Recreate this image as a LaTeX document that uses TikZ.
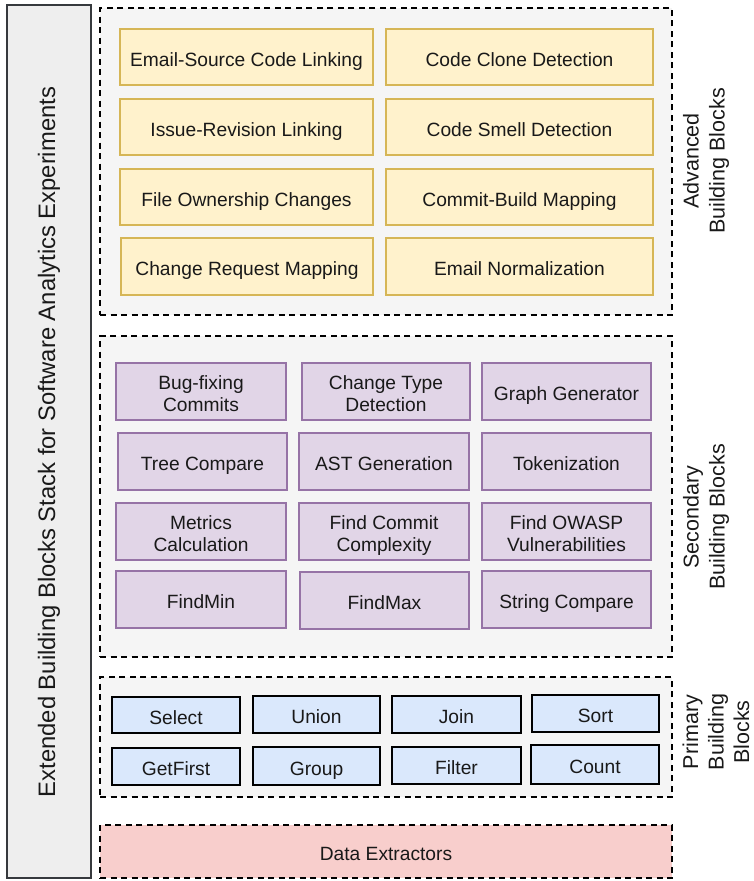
\documentclass[tikz,border=0pt]{standalone}
\usepackage{fontspec}
\setmainfont{Liberation Sans}
\begin{document}
\begin{tikzpicture}[x=1pt,y=-1pt,
  basebox/.style={draw, rectangle, inner sep=0pt, align=center, text=black!90,
    font=\fontsize{19.2}{22}\selectfont, text height=20pt, text depth=1.5pt},
  twoline/.style={text height=42pt},
  yellowbox/.style={basebox, fill=yfill, draw=ydraw, line width=2pt},
  purplebox/.style={basebox, fill=pfill, draw=pdraw, line width=2pt},
  bluebox/.style={basebox, fill=bfill, draw=black, line width=2.4pt},
  container/.style={draw=black, fill=cfill, line width=2pt, dash pattern=on 6pt off 4.5pt, rectangle, inner sep=0pt},
  sidelabel/.style={rotate=90, align=center, font=\fontsize{21.5}{26}\selectfont, text=black!90}
]
\definecolor{yfill}{HTML}{FFF2CC}
\definecolor{ydraw}{HTML}{D6B656}
\definecolor{pfill}{HTML}{E1D5E7}
\definecolor{pdraw}{HTML}{9673A6}
\definecolor{bfill}{HTML}{DAE8FC}
\definecolor{rfill}{HTML}{F8CECC}
\definecolor{cfill}{HTML}{F5F5F5}
\definecolor{gfill}{HTML}{EEEEEE}
\definecolor{gdraw}{HTML}{36393D}
\newcommand\rbox[7]{\node[#6, minimum width={#4pt-#2pt}, minimum height={#5pt-#3pt}] (#1) at ({(#2+#4)/2},{(#3+#5)/2}) {#7};}
\useasboundingbox (0,0) rectangle (754,881);

% left bar
\rbox{stack}{7}{5}{91}{878}{draw=gdraw, fill=gfill, line width=2.4pt, inner sep=0pt}{}
\node[rotate=90, font=\fontsize{23.8}{28}\selectfont, text=black!90] (stacklabel) at (49,442) {Extended Building Blocks Stack for Software Analytics Experiments};

% containers
\rbox{adv}{100}{8}{672}{315}{container}{}
\rbox{sec}{100}{336}{672}{657}{container}{}
\rbox{prim}{100}{677}{672}{797}{container}{}
\rbox{data}{100}{825}{672}{878}{container, fill=rfill, font=\fontsize{19.2}{22}\selectfont, text=black!90, text height=20pt, text depth=1.5pt}{Data Extractors}

\node[sidelabel] (advlabel) at (706,161) {Advanced\\Building Blocks};
\node[sidelabel] (seclabel) at (706,517) {Secondary\\Building Blocks};
\node[sidelabel, font=\fontsize{21.5}{25.5}\selectfont] (primlabel) at (716,732) {Primary\\Building\\Blocks};

% advanced
\rbox{a1}{120}{29}{373}{85}{yellowbox}{Email-Source Code Linking}
\rbox{a2}{120}{99}{373}{155}{yellowbox}{Issue-Revision Linking}
\rbox{a3}{120}{169}{373}{225}{yellowbox}{File Ownership Changes}
\rbox{a4}{121}{238}{373}{295}{yellowbox}{Change Request Mapping}
\rbox{a5}{386}{29}{653}{85}{yellowbox}{Code Clone Detection}
\rbox{a6}{386}{99}{653}{155}{yellowbox}{Code Smell Detection}
\rbox{a7}{386}{169}{653}{225}{yellowbox}{Commit-Build Mapping}
\rbox{a8}{386}{238}{653}{295}{yellowbox}{Email Normalization}

% secondary
\rbox{s1}{116}{363}{286}{420}{purplebox, twoline}{Bug-fixing\\Commits}
\rbox{s2}{302}{363}{470}{420}{purplebox, twoline}{Change Type\\Detection}
\rbox{s3}{482}{363}{651}{420}{purplebox}{Graph Generator}
\rbox{s4}{118}{433}{287}{490}{purplebox}{Tree Compare}
\rbox{s5}{299}{433}{469}{490}{purplebox}{AST Generation}
\rbox{s6}{482}{433}{651}{490}{purplebox}{Tokenization}
\rbox{s7}{116}{503}{286}{560}{purplebox, twoline}{Metrics\\Calculation}
\rbox{s8}{299}{503}{469}{560}{purplebox, twoline}{Find Commit\\Complexity}
\rbox{s9}{482}{503}{651}{560}{purplebox, twoline}{Find OWASP\\Vulnerabilities}
\rbox{s10}{116}{571}{286}{628}{purplebox}{FindMin}
\rbox{s11}{300}{572}{469}{629}{purplebox}{FindMax}
\rbox{s12}{482}{571}{651}{628}{purplebox}{String Compare}

% primary
\rbox{p1}{112}{697}{240}{733}{bluebox}{Select}
\rbox{p2}{253}{696}{380}{733}{bluebox}{Union}
\rbox{p3}{392}{696}{521}{733}{bluebox}{Join}
\rbox{p4}{532}{695}{659}{732}{bluebox}{Sort}
\rbox{p5}{112}{748}{240}{785}{bluebox}{GetFirst}
\rbox{p6}{253}{747}{380}{785}{bluebox}{Group}
\rbox{p7}{392}{747}{521}{784}{bluebox}{Filter}
\rbox{p8}{531}{745}{659}{784}{bluebox}{Count}
\end{tikzpicture}
\end{document}
